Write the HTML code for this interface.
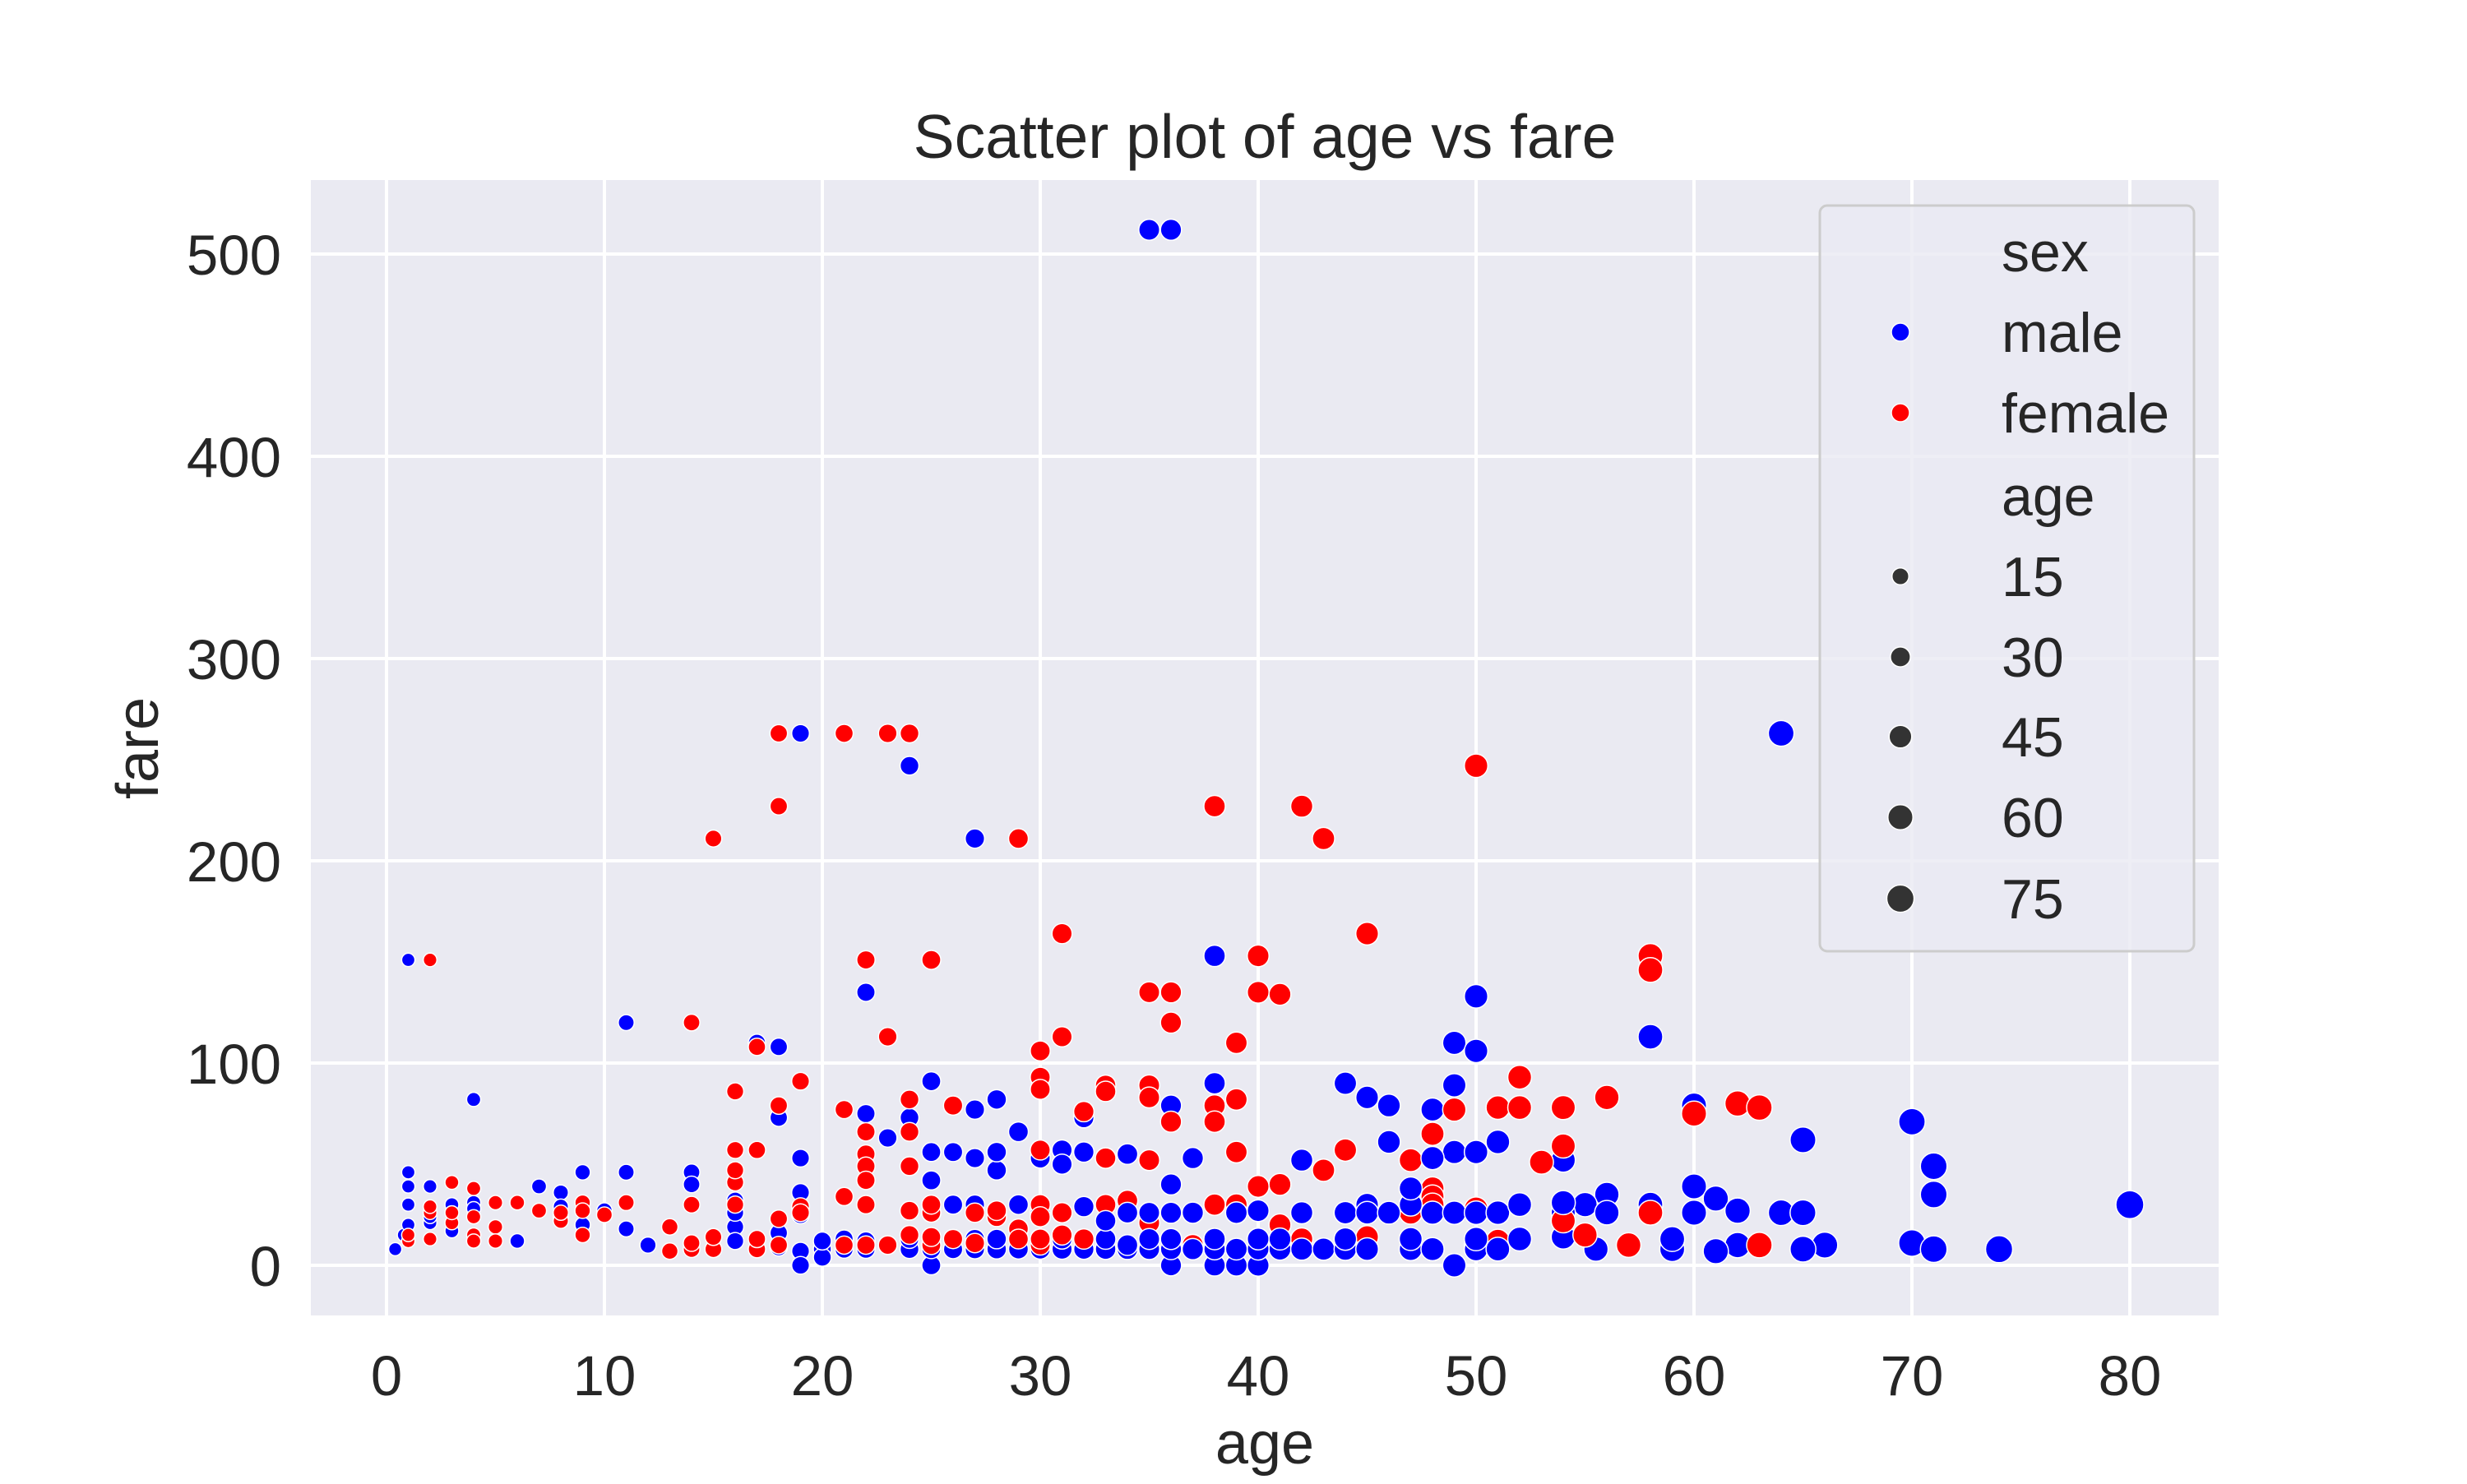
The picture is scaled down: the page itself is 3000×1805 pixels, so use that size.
<!DOCTYPE html>
<html><head><meta charset="utf-8"><style>
html,body{margin:0;padding:0;background:#fff;}
svg text{font-family:"Liberation Sans",Arial,sans-serif;fill:#262626;}
</style></head><body>
<svg id="chart" width="3000" height="1800" xmlns="http://www.w3.org/2000/svg">
<rect x="378" y="219" width="2320" height="1381" fill="#EAEAF2"/>
<g id="grid"></g>
<g id="points"></g>
<g id="ticks"></g>
<text x="1538" y="192" text-anchor="middle" font-size="75">Scatter plot of age vs fare</text>
<text x="1538" y="1780" text-anchor="middle" font-size="72">age</text>
<text transform="translate(192,910) rotate(-90)" text-anchor="middle" font-size="72">fare</text>
<g id="legend">
<rect x="2213" y="250" width="455" height="907" rx="9" fill="#EAEAF2" fill-opacity="0.8" stroke="#CCCCCC" stroke-width="3"/>
</g>
</svg>
<script>
const xTicks=[0,10,20,30,40,50,60,70,80];
const yTicks=[0,100,200,300,400,500];
const maleAge=[35,36,64,19,24,27,38,1,22,50,11,58,17,18,49,50,4,25,28,27,24,18,32,38,36,44,45,46,48,49,60,22,29,23,31,30,33,34,36,37,39,42,46,49,50,51,54,65,70,71,71,56,55,60,61,62,58,64,65,80,74,70,71,66,65,62,61,59,59,60,55.5,56,54,54,0.4,0.8,1,1,1,1,2,2,2,3,3,3,4,4,4,6,7,8,8,8,9,9,10,11,11,12,14,14,16,16,16,16,17,18,18,19,19,19,19,19,20,20,20,21,21,22,22,23,24,24,25,25,25,25,25,26,26,26,27,27,27,27,28,28,28,28,28,29,29,30,30,30,31,31,31,31,32,32,32,33,33,33,34,34,34,35,35,35,36,36,36,36,37,37,38,38,38,39,39,39,40,40,40,40,41,41,42,42,43,44,44,44,45,45,45,46,47,47,47,47,48,48,48,49,49,50,50,50,51,51,52,52,54];
const maleFare=[512,512,263,263,247,211,153,151,135,133,120,113,110,108,110,106,82,91,82,77,73,73,73,90,79,90,83,79,77,89,79,75,66,63,57,53,53,55,40,53,56,52,61,56,56,61,52,62,71,49,35,35,30,39,33,27,30,26,26,30,8,11,8,10,8,10,7,8,13,26,8,26,26,14,8,15,20,30,39,46,39,21,24,30,26,17,31,12,28,12,39,36,29,24,46,20,27,46,18,10,46,40,32,19,26,12,8,16,9,36,25,7,0,53,8,4,12,8,13,8,12,10,8,13,0,8,26,42,56,8,30,56,8,13,30,53,47,56,8,13,26,8,30,8,13,26,8,13,26,50,8,29,56,8,13,22,8,10,26,8,26,13,0,8,13,26,8,26,0,8,13,0,8,26,0,8,13,27,8,13,8,26,8,8,13,26,8,30,26,26,8,13,30,38,8,26,53,0,26,8,13,26,8,26,13,30,31];
const femaleAge=[18,21,23,24,18,38,42,43,15,29,50,2,22,25,40,58,58,31,45,14,36,35,36,40,41,23,31,39,30,17,19,30,30,33,33,35,35,24,16,18,21,26,39,38,38,36,32,52,51,52,54,56,60,62,63,49,48,22,22,22,22,24,24,16,17,30,33,35,39,40,41,43,44,53,54,47,48,48,48,49,50,50,51,58,57,55,54,63,1,1,2,2,2,3,3,3,4,4,4,4,5,5,5,6,7,8,8,9,9,9,10,11,13,13,14,14,14,15,15,16,16,16,17,17,18,18,19,19,21,21,22,22,23,24,24,25,25,25,25,26,27,27,28,28,29,29,30,30,30,30,31,31,32,33,34,34,35,35,36,37,38,39,39,40,41,42,44,45,47,48,50,51];
const femaleFare=[263,263,263,263,227,227,227,211,211,211,247,151,151,151,153,153,146,164,164,120,120,135,135,135,134,113,113,110,106,108,91,93,87,89,86,89,83,82,86,79,77,79,82,79,71,71,76,93,78,78,78,83,75,80,78,77,65,66,55,49,42,66,49,57,57,57,53,52,56,39,40,47,57,51,59,52,38,34,30,26,26,28,26,26,10,15,22,10,12,15,13,26,29,41,21,26,38,24,15,12,31,19,12,31,27,22,26,31,27,15,25,31,7,19,8,11,30,8,14,30,41,47,8,13,10,23,29,26,34,10,10,30,10,27,15,10,14,26,30,13,11,26,24,27,18,13,30,24,10,13,26,15,13,30,26,32,26,21,13,10,30,30,26,13,20,13,26,14,26,26,10,12];
const legendSizes=[15,30,45,60,75];

const NS="http://www.w3.org/2000/svg";
const X0=378,X1=2698,Y0=219,Y1=1600;
function xs(a){return 470+(a-0)*(2590-470)/80;}
function ys(f){return 1539-f*(1539-309)/500;}
function rad(a){return Math.sqrt(256+11.3*(a-0.4))/2;}
function mk(tag,attrs,parent){const e=document.createElementNS(NS,tag);for(const k in attrs)e.setAttribute(k,attrs[k]);parent.appendChild(e);return e;}
const grid=document.getElementById('grid'),ticks=document.getElementById('ticks'),pts=document.getElementById('points'),leg=document.getElementById('legend');
xTicks.forEach(t=>{
  const l=mk('line',{x1:xs(t),x2:xs(t),y1:Y0,y2:Y1,stroke:'#fff','stroke-width':4},grid);
  
  
  const tx=mk('text',{x:xs(t),y:1697,'text-anchor':'middle','font-size':69},ticks);tx.textContent=t;
  
  
});
yTicks.forEach(t=>{
  const l=mk('line',{x1:X0,x2:X1,y1:ys(t),y2:ys(t),stroke:'#fff','stroke-width':4},grid);
  
  
  const tx=mk('text',{x:342,y:ys(t)+25,'text-anchor':'end','font-size':69},ticks);tx.textContent=t;
  
  
});
const n=Math.max(maleAge.length,femaleAge.length);
for(let i=0;i<n;i++){
  if(i<maleAge.length){
    const c=mk('circle',{cx:xs(maleAge[i]),cy:ys(maleFare[i]),r:rad(maleAge[i]),fill:'#0000FF',stroke:'#fff','stroke-width':1.5},pts);
    
    
  }
  if(i<femaleAge.length){
    const c=mk('circle',{cx:xs(femaleAge[i]),cy:ys(femaleFare[i]),r:rad(femaleAge[i]),fill:'#FF0000',stroke:'#fff','stroke-width':1.5},pts);
    
    
  }
}
const ly=[306,404,502,603,701,799,896,994,1093];
const labels=['sex','male','female','age'].concat(legendSizes.map(String));
labels.forEach((s,i)=>{
  const t=mk('text',{x:2434,y:ly[i]+24,'font-size':68},leg);t.textContent=s;
  
  
});
[['#0000FF',1],['#FF0000',2]].forEach(([c,i])=>{
  const m=mk('circle',{cx:2311,cy:ly[i],r:11,fill:c,stroke:'#fff','stroke-width':1.5},leg);
  
  
});
legendSizes.forEach((a,i)=>{
  const m=mk('circle',{cx:2311,cy:ly[4+i],r:rad(a),fill:'#333333',stroke:'#fff','stroke-width':1.5},leg);
  
  
});
</script>
</body></html>
